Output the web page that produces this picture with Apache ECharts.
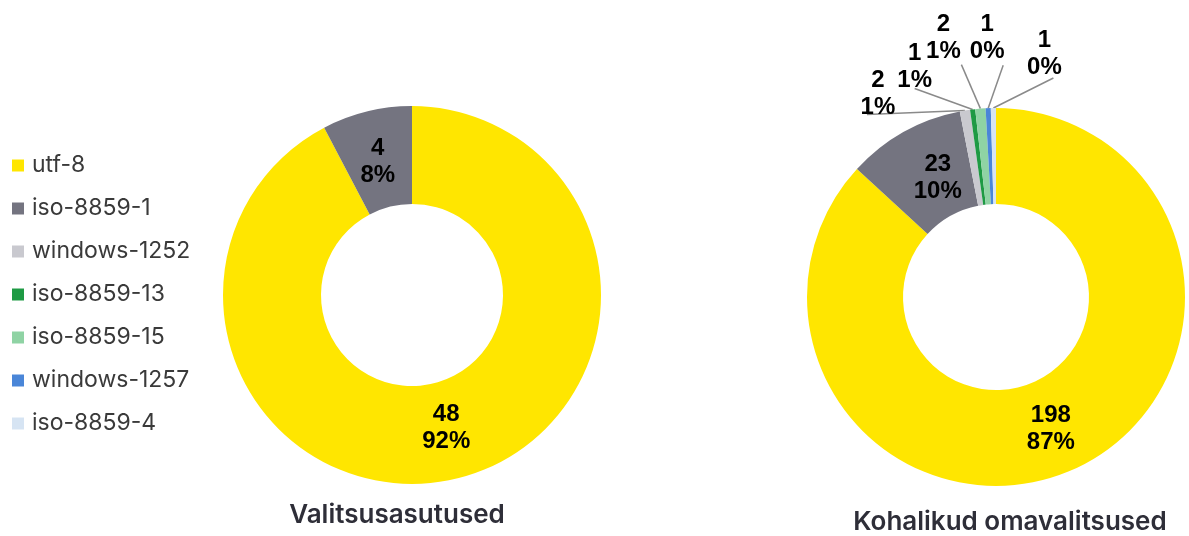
<!DOCTYPE html>
<html>
<head>
<meta charset="utf-8">
<script src="https://cdn.jsdelivr.net/npm/echarts@6/dist/echarts.min.js"></script>
<style>
html,body{margin:0;padding:0;background:#fff;}
#chart{width:1189px;height:536px;}
</style>
</head>
<body>
<div id="chart"></div>
<script>
// ---- data ----
const categories = ['utf-8', 'iso-8859-1', 'windows-1252', 'iso-8859-13', 'iso-8859-15', 'windows-1257', 'iso-8859-4'];
const leftValues = [48, 4];
const leftPct = [92, 8];
const rightValues = [198, 23, 2, 1, 2, 1, 1];
const rightPct = [87, 10, 1, 1, 1, 0, 0];
const titles = ['Valitsusasutused', 'Kohalikud omavalitsused'];

// ---- styles ----
const colors = ['#FFE600', '#747480', '#C9C9CF', '#1E9A44', '#8FD3A4', '#4A86D8', '#D6E4F3'];
// outside label offsets for small slices (relative to slice edge anchor): [labelDx, labelDy, lineDx, lineDy]
const smallLabelOffsets = {
  2: [-87, -17, -98, 4],
  3: [-58, -43, -58, -21],
  4: [-37, -71, -19, -44],
  5: [-1, -70, 15, -43],
  6: [51, -54, 60, -30]
};
// small nudges for inside labels: [seriesIndex][dataIndex] -> [dx, dy]
const insideNudges = [
  { 0: [0, -6], 1: [0, 6] },
  { 0: [-3, 0], 1: [12, 7] }
];
const labelFont = "'Liberation Sans',Arial,sans-serif";
const textFont = "Inter,'Open Sans',sans-serif";

function makeData(values, pct, insideCount) {
  return values.map((v, i) => ({
    name: categories[i],
    value: v,
    pct: pct[i],
    itemStyle: { color: colors[i] },
    label: i < insideCount ? { position: 'inside' } : { position: 'outside' },
    labelLine: { show: i >= insideCount }
  }));
}

const leftData = makeData(leftValues, leftPct, 2);
const rightData = makeData(rightValues, rightPct, 2);

const labelCommon = {
  show: true,
  fontFamily: labelFont,
  fontWeight: 'bold',
  fontSize: 24,
  lineHeight: 27,
  color: '#000',
  formatter: p => p.value + '\n' + p.data.pct + '%'
};

function layoutFor(seriesIndex) {
  return function (params) {
    const nudge = insideNudges[seriesIndex][params.dataIndex];
    if (nudge) return { dx: nudge[0], dy: nudge[1] };
    const off = seriesIndex === 1 ? smallLabelOffsets[params.dataIndex] : null;
    if (!off || !params.labelLinePoints) return {};
    const a = params.labelLinePoints[0];
    const end = [a[0] + off[2], a[1] + off[3]];
    return {
      x: a[0] + off[0],
      y: a[1] + off[1],
      align: 'center',
      verticalAlign: 'middle',
      labelLinePoints: [[a[0], a[1]], [(a[0] + end[0]) / 2, (a[1] + end[1]) / 2], end]
    };
  };
}

const chart = echarts.init(document.getElementById('chart'), null, { renderer: 'canvas' });
chart.setOption({
  animation: false,
  backgroundColor: '#fff',
  legend: {
    orient: 'vertical',
    left: 7,
    top: 149,
    data: categories,
    icon: 'rect',
    itemWidth: 12,
    itemHeight: 12,
    itemGap: 20,
    textStyle: { fontFamily: textFont, fontSize: 23, color: '#3a3a3a', lineHeight: 23, padding: [0, 0, 0, 3] }
  },
  title: [
    { text: titles[0], left: 397, top: 502, textAlign: 'center', padding: 0,
      textStyle: { fontFamily: textFont, fontWeight: 600, fontSize: 26, lineHeight: 26, color: '#2e2e38' } },
    { text: titles[1], left: 1010, top: 509, textAlign: 'center', padding: 0,
      textStyle: { fontFamily: textFont, fontWeight: 600, fontSize: 26, lineHeight: 26, color: '#2e2e38' } }
  ],
  series: [
    {
      type: 'pie',
      center: [412, 295],
      radius: [91, 189],
      startAngle: 90,
      clockwise: true,
      avoidLabelOverlap: false,
      label: labelCommon,
      labelLine: { show: false },
      emphasis: { disabled: true },
      data: leftData,
      labelLayout: layoutFor(0)
    },
    {
      type: 'pie',
      center: [996, 297],
      radius: [93, 189],
      startAngle: 90,
      clockwise: true,
      avoidLabelOverlap: false,
      label: labelCommon,
      labelLine: { show: true, length: 10, length2: 10, lineStyle: { color: '#8a8a8a', width: 1.5 } },
      emphasis: { disabled: true },
      data: rightData,
      labelLayout: layoutFor(1)
    }
  ]
});
</script>
</body>
</html>
